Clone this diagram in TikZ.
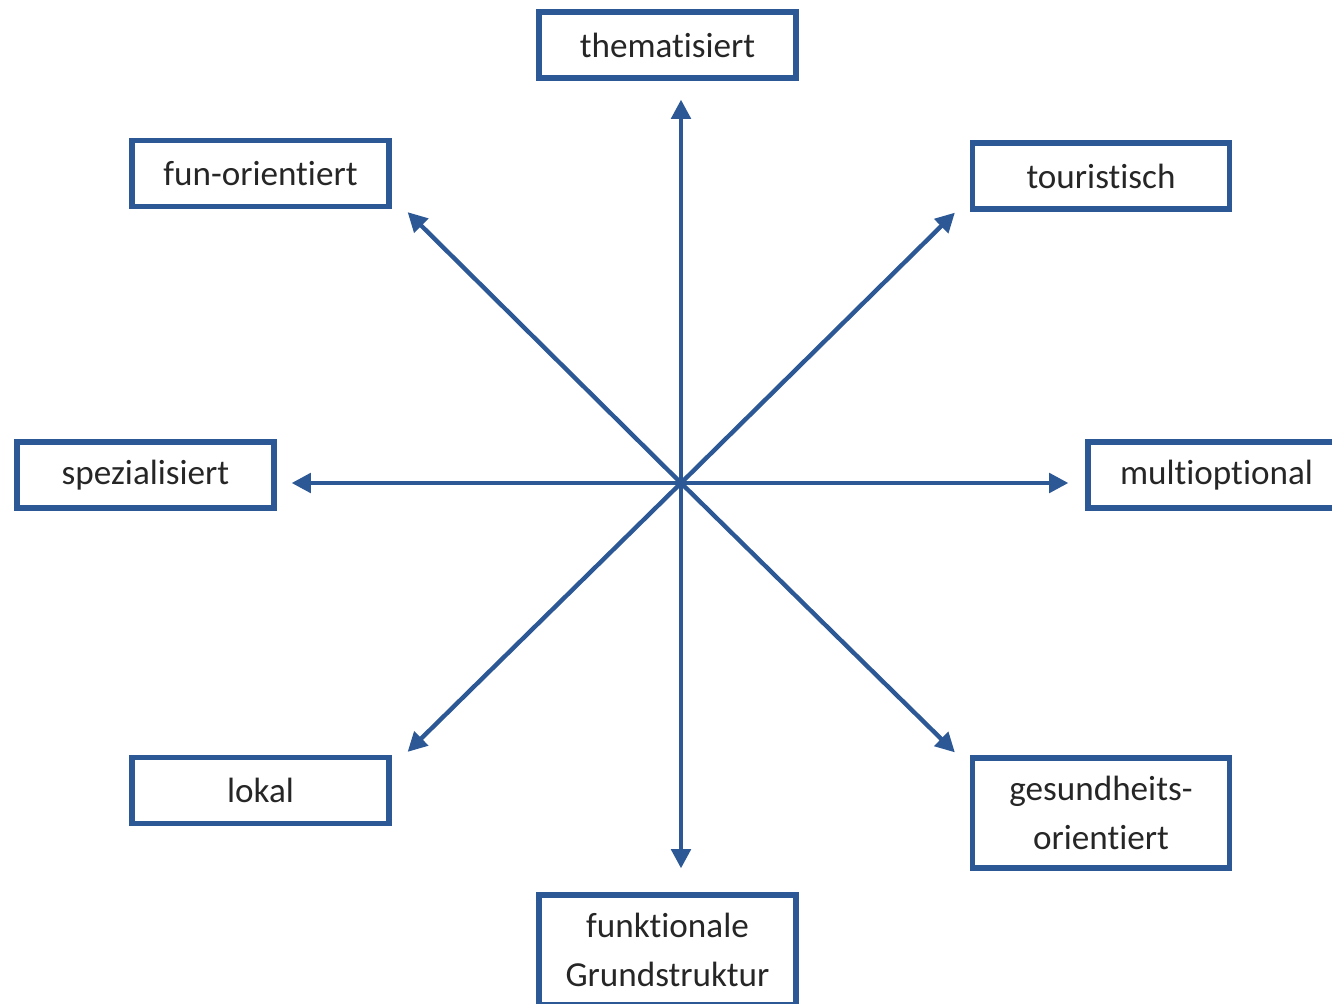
\documentclass[tikz,border=0pt]{standalone}
\usepackage{fontspec}
\setmainfont{Carlito}[RawFeature={-liga;-clig;-calt;-dlig}]
\usetikzlibrary{arrows.meta,calc}

\definecolor{achsblau}{HTML}{2C5896}
\tikzset{
  feld/.style={draw=achsblau, line width=3pt, minimum width=5.14cm, minimum height=1.32cm,
    align=center, inner sep=0pt, text=black!85, font=\fontsize{20}{28}\selectfont},
  hochfeld/.style={feld, minimum height=2.2cm},
  achse/.style={draw=achsblau, line width=2.5pt, -{Triangle[length=11pt,width=11pt]}}
}

\begin{document}
\begin{tikzpicture}[x=0.02cm, y=-0.02cm]
            \useasboundingbox (0,0) rectangle (1332,1004);
            \clip (0,0) rectangle (1332,1004);
            % Kaestchen
            \node[feld] (them) at (667.5,45) {thematisiert};
            \node[feld] (fun) at (260.5,173.5) {fun-orientiert};
            \node[feld] (tour) at (1101,176) {touristisch};
            \node[feld] (spez) at (145.5,475) {spezialisiert};
            \node[feld] (multi) at (1216.5,475) {multioptional};
            \node[feld] (lokal) at (260.5,790.5) {lokal};
            \node[hochfeld] (gesund) at (1101,813) {gesundheits-\\orientiert};
            \node[hochfeld] (funk) at (667.5,950) {funktionale\\Grundstruktur};
            % Mitte und Pfeilspitzen
            \coordinate (mitte) at (681,483);
            \coordinate (tNW) at ($(fun.south east)+(16,3)$);
            \coordinate (tNO) at ($(tour.south west)+(-15,1)$);
            \coordinate (tSW) at ($(lokal.north east)+(16,-3)$);
            \coordinate (tSO) at ($(gesund.north west)+(-15,-3)$);
            % Achsen
            \draw[achse, shorten >=0.38cm] (mitte) -- (mitte |- them.south);
            \draw[achse, shorten >=0.48cm] (mitte) -- (mitte |- funk.north);
            \draw[achse, shorten >=0.3cm] (mitte) -- (spez.east |- mitte);
            \draw[achse, shorten >=0.34cm] (mitte) -- (multi.west |- mitte);
            \draw[achse] (mitte) -- (tNW);
            \draw[achse] (mitte) -- (tNO);
            \draw[achse] (mitte) -- (tSW);
            \draw[achse] (mitte) -- (tSO);
        \end{tikzpicture}
\end{document}
